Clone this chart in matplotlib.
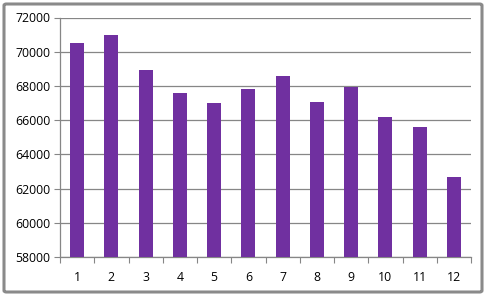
import matplotlib.pyplot as plt
from matplotlib.patches import FancyBboxPatch

months = list(range(1, 13))
values = [70530, 70960, 68960, 67610, 67020, 67800, 68560, 67070, 67960, 66190, 65610, 62650]
y_ticks = list(range(58000, 72001, 2000))

bar_color = '#7030a0'
grid_color = '#868686'

plt.rcParams['font.family'] = ['Open Sans', 'DejaVu Sans']

fig = plt.figure(figsize=(4.86, 2.96), dpi=100)
ax = fig.add_axes([60 / 486, 39 / 296, 411 / 486, 239.5 / 296])

ax.bar(months, values, width=0.41, color=bar_color, zorder=3)

ax.set_xlim(0.5, 12.5)
ax.set_ylim(58000, 72000)
ax.set_yticks(y_ticks)
ax.set_yticklabels([str(v) for v in y_ticks])

# category boundaries get the tick marks, labels sit in between
ax.set_xticks([i + 0.5 for i in range(0, 13)])
ax.set_xticklabels([])
ax.set_xticks(months, minor=True)
ax.set_xticklabels([str(m) for m in months], minor=True)
ax.tick_params(axis='x', which='major', length=4, color=grid_color, direction='out')
ax.tick_params(axis='x', which='minor', length=0, pad=10, labelsize=8.8)
ax.tick_params(axis='y', length=4, color=grid_color, pad=3, labelsize=8.8)

ax.yaxis.grid(True, color=grid_color, linewidth=0.9, zorder=0)
for side in ['top', 'right']:
    ax.spines[side].set_visible(False)
for side in ['left', 'bottom']:
    ax.spines[side].set_color(grid_color)
    ax.spines[side].set_linewidth(0.9)

# outer chart frame
frame = FancyBboxPatch((4 / 486, 4 / 296), 478 / 486, 288 / 296,
                       boxstyle='round,pad=0,rounding_size=0.005',
                       transform=fig.transFigure, fill=False,
                       edgecolor='#8a8a8a', linewidth=2.2)
fig.patches.append(frame)

fig.savefig('out.png', dpi=100)
